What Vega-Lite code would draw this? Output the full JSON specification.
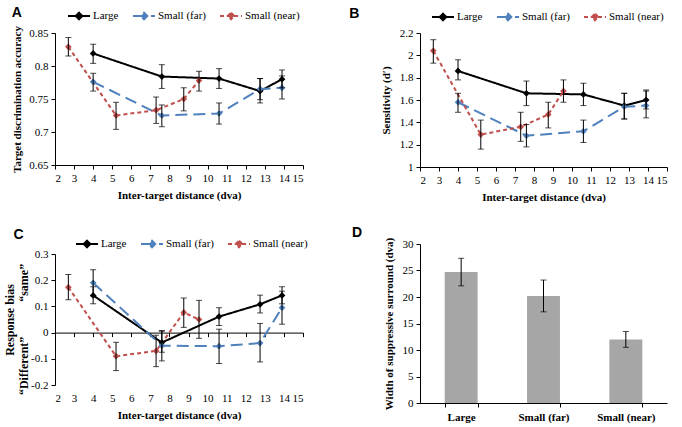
{
  "$schema": "https://vega.github.io/schema/vega-lite/v6.json",
  "padding": {"left": 3, "top": 4, "right": 1, "bottom": 1},
  "background": "white",
  "config": {
    "font": "Liberation Serif",
    "view": {"stroke": null},
    "axis": {"grid": false, "domainColor": "black", "tickColor": "black", "labelColor": "black", "titleColor": "black", "labelFont": "Liberation Serif", "titleFont": "Liberation Serif", "labelFontSize": 11, "titleFontSize": 11, "titleFontWeight": "bold", "tickSize": 4, "labelPadding": 3},
    "legend": {"labelFont": "Liberation Serif", "labelFontSize": 11, "labelColor": "black", "gridAlign": "none"},
    "title": {"font": "Liberation Sans", "fontSize": 14, "fontWeight": "bold", "color": "black", "anchor": "start", "frame": "bounds"}
  },
  "datasets": {
    "pts": [
      {"panel": "A", "cond": "Large", "x": 4, "y": 0.819, "lo": 0.804, "hi": 0.833},
      {"panel": "A", "cond": "Large", "x": 7.6, "y": 0.784, "lo": 0.766, "hi": 0.802},
      {"panel": "A", "cond": "Large", "x": 10.6, "y": 0.781, "lo": 0.766, "hi": 0.796},
      {"panel": "A", "cond": "Large", "x": 12.75, "y": 0.762, "lo": 0.744, "hi": 0.781},
      {"panel": "A", "cond": "Large", "x": 13.9, "y": 0.78, "lo": 0.767, "hi": 0.794},
      {"panel": "A", "cond": "Small (far)", "x": 4, "y": 0.776, "lo": 0.762, "hi": 0.789},
      {"panel": "A", "cond": "Small (far)", "x": 7.6, "y": 0.725, "lo": 0.708, "hi": 0.741},
      {"panel": "A", "cond": "Small (far)", "x": 10.6, "y": 0.728, "lo": 0.712, "hi": 0.744},
      {"panel": "A", "cond": "Small (far)", "x": 12.75, "y": 0.765, "lo": 0.749, "hi": 0.781},
      {"panel": "A", "cond": "Small (far)", "x": 13.9, "y": 0.767, "lo": 0.75, "hi": 0.785},
      {"panel": "A", "cond": "Small (near)", "x": 2.7, "y": 0.829, "lo": 0.815, "hi": 0.843},
      {"panel": "A", "cond": "Small (near)", "x": 5.2, "y": 0.725, "lo": 0.704, "hi": 0.745},
      {"panel": "A", "cond": "Small (near)", "x": 7.3, "y": 0.733, "lo": 0.713, "hi": 0.753},
      {"panel": "A", "cond": "Small (near)", "x": 8.75, "y": 0.75, "lo": 0.732, "hi": 0.767},
      {"panel": "A", "cond": "Small (near)", "x": 9.55, "y": 0.778, "lo": 0.762, "hi": 0.792},
      {"panel": "B", "cond": "Large", "x": 4, "y": 1.86, "lo": 1.78, "hi": 1.96},
      {"panel": "B", "cond": "Large", "x": 7.6, "y": 1.66, "lo": 1.55, "hi": 1.77},
      {"panel": "B", "cond": "Large", "x": 10.6, "y": 1.65, "lo": 1.55, "hi": 1.75},
      {"panel": "B", "cond": "Large", "x": 12.75, "y": 1.55, "lo": 1.43, "hi": 1.66},
      {"panel": "B", "cond": "Large", "x": 13.9, "y": 1.6, "lo": 1.52, "hi": 1.69},
      {"panel": "B", "cond": "Small (far)", "x": 4, "y": 1.58, "lo": 1.49, "hi": 1.66},
      {"panel": "B", "cond": "Small (far)", "x": 7.6, "y": 1.28, "lo": 1.18, "hi": 1.38},
      {"panel": "B", "cond": "Small (far)", "x": 10.6, "y": 1.32, "lo": 1.22, "hi": 1.42},
      {"panel": "B", "cond": "Small (far)", "x": 12.75, "y": 1.54, "lo": 1.43, "hi": 1.66},
      {"panel": "B", "cond": "Small (far)", "x": 13.9, "y": 1.55, "lo": 1.44, "hi": 1.68},
      {"panel": "B", "cond": "Small (near)", "x": 2.7, "y": 2.04, "lo": 1.93, "hi": 2.14},
      {"panel": "B", "cond": "Small (near)", "x": 5.2, "y": 1.29, "lo": 1.16, "hi": 1.42},
      {"panel": "B", "cond": "Small (near)", "x": 7.3, "y": 1.36, "lo": 1.23, "hi": 1.49},
      {"panel": "B", "cond": "Small (near)", "x": 8.75, "y": 1.47, "lo": 1.35, "hi": 1.58},
      {"panel": "B", "cond": "Small (near)", "x": 9.55, "y": 1.68, "lo": 1.58, "hi": 1.78},
      {"panel": "C", "cond": "Large", "x": 4, "y": 0.142, "lo": 0.11, "hi": 0.175},
      {"panel": "C", "cond": "Large", "x": 7.6, "y": -0.038, "lo": -0.075, "hi": 0.005},
      {"panel": "C", "cond": "Large", "x": 10.6, "y": 0.061, "lo": 0.027, "hi": 0.095},
      {"panel": "C", "cond": "Large", "x": 12.75, "y": 0.108, "lo": 0.075, "hi": 0.143},
      {"panel": "C", "cond": "Large", "x": 13.9, "y": 0.142, "lo": 0.11, "hi": 0.175},
      {"panel": "C", "cond": "Small (far)", "x": 4, "y": 0.19, "lo": 0.14, "hi": 0.24},
      {"panel": "C", "cond": "Small (far)", "x": 7.6, "y": -0.05, "lo": -0.108, "hi": 0.008},
      {"panel": "C", "cond": "Small (far)", "x": 10.6, "y": -0.052, "lo": -0.118, "hi": 0.013},
      {"panel": "C", "cond": "Small (far)", "x": 12.75, "y": -0.04, "lo": -0.112, "hi": 0.035},
      {"panel": "C", "cond": "Small (far)", "x": 13.9, "y": 0.095, "lo": 0.032, "hi": 0.158},
      {"panel": "C", "cond": "Small (near)", "x": 2.7, "y": 0.173, "lo": 0.125, "hi": 0.222},
      {"panel": "C", "cond": "Small (near)", "x": 5.2, "y": -0.09, "lo": -0.145, "hi": -0.037},
      {"panel": "C", "cond": "Small (near)", "x": 7.3, "y": -0.07, "lo": -0.13, "hi": -0.01},
      {"panel": "C", "cond": "Small (near)", "x": 8.75, "y": 0.077, "lo": 0.02, "hi": 0.132},
      {"panel": "C", "cond": "Small (near)", "x": 9.55, "y": 0.05, "lo": -0.022, "hi": 0.123}
    ],
    "bars": [
      {"cond": "Large", "y": 24.7, "lo": 22.1, "hi": 27.3},
      {"cond": "Small (far)", "y": 20.2, "lo": 17.2, "hi": 23.2},
      {"cond": "Small (near)", "y": 12.0, "lo": 10.5, "hi": 13.5}
    ],
    "biaslabels": [
      {"label": "“same”", "x": 0.35, "y": 0.19},
      {"label": "“Different”", "x": 0.35, "y": -0.127}
    ]
  },
  "hconcat": [
    {
      "vconcat": [
        {
          "width": 248, "height": 132,
          "title": {"text": "A", "offset": -16, "dx": 0},
          "data": {"name": "pts"},
          "transform": [{"filter": "datum.panel == 'A'"}],
          "encoding": {
            "x": {"field": "x", "type": "quantitative", "scale": {"domain": [2, 15], "nice": false}, "axis": {"values": [2,3,4,5,6,7,8,9,10,11,12,13,14,15], "title": "Inter-target distance (dva)", "titlePadding": 6}},
            "y": {"field": "y", "type": "quantitative", "scale": {"domain": [0.65, 0.85], "nice": false, "zero": false}, "axis": {"values": [0.65,0.7,0.75,0.8,0.85], "format": ".2~f", "title": "Target discrimination accuracy", "titlePadding": 6}}
          },
          "layer": [
            {"mark": {"type": "line", "strokeWidth": 2}, "encoding": {
              "color": {"field": "cond", "type": "nominal", "scale": {"domain": ["Large","Small (far)","Small (near)"], "range": ["#000000","#4f81bd","#c0504d"]}, "legend": {"orient": "none", "legendX": 12, "legendY": -29, "title": null, "direction": "horizontal", "symbolType": "M-1,0L1,0M0,-0.3L0.3,0L0,0.3L-0.3,0Z", "symbolSize": 484, "symbolStrokeWidth": 2, "columnPadding": 10, "labelOffset": 2}},
              "strokeDash": {"field": "cond", "type": "nominal", "scale": {"domain": ["Large","Small (far)","Small (near)"], "range": [[1,0],[12,6],[4,3]]}, "legend": {"orient": "none", "legendX": 12, "legendY": -29, "title": null, "direction": "horizontal", "symbolType": "M-1,0L1,0M0,-0.3L0.3,0L0,0.3L-0.3,0Z", "symbolSize": 484, "symbolStrokeWidth": 2, "columnPadding": 10, "labelOffset": 2}}
            }},
            {"mark": {"type": "point", "shape": "diamond", "filled": true, "size": 45, "opacity": 1}, "encoding": {"color": {"field": "cond", "type": "nominal", "legend": null}}},
            {"mark": {"type": "errorbar", "ticks": {"size": 6, "color": "black"}, "rule": {"color": "black"}, "color": "black"}, "encoding": {"y": {"field": "lo", "type": "quantitative"}, "y2": {"field": "hi"}}}
          ]
        },
        {
          "width": 248, "height": 131,
          "title": {"text": "C", "offset": -10, "dx": 10},
          "encoding": {
            "y": {"field": "y", "type": "quantitative", "scale": {"domain": [-0.2, 0.3], "nice": false, "zero": false}, "axis": {"values": [-0.2,-0.1,0,0.1,0.2,0.3], "labelExpr": "replace(format(datum.value, '.1~f'), '−', '-')", "title": "Response bias", "titlePadding": 14, "titleFontSize": 12}}
          },
          "layer": [
            {
              "data": {"name": "pts"},
              "transform": [{"filter": "datum.panel == 'C'"}],
              "encoding": {
                "x": {"field": "x", "type": "quantitative", "scale": {"domain": [2, 15], "nice": false}, "axis": {"values": [2,3,4,5,6,7,8,9,10,11,12,13,14,15], "title": "Inter-target distance (dva)", "domain": false, "ticks": false, "labelPadding": 7, "titlePadding": 6}}
              },
              "layer": [
                {"mark": {"type": "line", "strokeWidth": 2}, "encoding": {
                  "color": {"field": "cond", "type": "nominal", "scale": {"domain": ["Large","Small (far)","Small (near)"], "range": ["#000000","#4f81bd","#c0504d"]}, "legend": {"orient": "none", "legendX": 20, "legendY": -22, "title": null, "direction": "horizontal", "symbolType": "M-1,0L1,0M0,-0.3L0.3,0L0,0.3L-0.3,0Z", "symbolSize": 484, "symbolStrokeWidth": 2, "columnPadding": 10, "labelOffset": 2}},
                  "strokeDash": {"field": "cond", "type": "nominal", "scale": {"domain": ["Large","Small (far)","Small (near)"], "range": [[1,0],[12,6],[4,3]]}, "legend": {"orient": "none", "legendX": 20, "legendY": -22, "title": null, "direction": "horizontal", "symbolType": "M-1,0L1,0M0,-0.3L0.3,0L0,0.3L-0.3,0Z", "symbolSize": 484, "symbolStrokeWidth": 2, "columnPadding": 10, "labelOffset": 2}}
                }},
                {"mark": {"type": "point", "shape": "diamond", "filled": true, "size": 45, "opacity": 1}, "encoding": {"color": {"field": "cond", "type": "nominal", "legend": null}}},
                {"mark": {"type": "errorbar", "ticks": {"size": 6, "color": "black"}, "rule": {"color": "black"}, "color": "black"}, "encoding": {"y": {"field": "lo", "type": "quantitative"}, "y2": {"field": "hi"}}}
              ]
            },
            {
              "data": {"name": "pts"},
              "transform": [{"filter": "datum.panel == 'C'"}],
              "mark": {"type": "point", "opacity": 0},
              "encoding": {
                "x": {"field": "x", "type": "quantitative", "axis": {"values": [2,3,4,5,6,7,8,9,10,11,12,13,14,15], "title": null, "labels": false, "domain": true, "ticks": true, "offset": -52.4, "orient": "bottom"}}
              }
            },
            {
              "data": {"name": "biaslabels"},
              "mark": {"type": "text", "angle": 270, "font": "Liberation Serif", "fontSize": 12, "fontWeight": "bold", "color": "black", "align": "center", "baseline": "middle"},
              "encoding": {
                "x": {"field": "x", "type": "quantitative", "axis": null},
                "text": {"field": "label"}
              }
            }
          ],
          "resolve": {"axis": {"x": "independent"}}
        }
      ],
      "spacing": 28,
      "resolve": {"scale": {"color": "independent", "strokeDash": "independent"}, "legend": {"color": "independent", "strokeDash": "independent"}}
    },
    {
      "vconcat": [
        {
          "width": 247, "height": 134,
          "title": {"text": "B", "offset": -16, "dx": -31},
          "data": {"name": "pts"},
          "transform": [{"filter": "datum.panel == 'B'"}],
          "encoding": {
            "x": {"field": "x", "type": "quantitative", "scale": {"domain": [2, 15], "nice": false}, "axis": {"values": [2,3,4,5,6,7,8,9,10,11,12,13,14,15], "title": "Inter-target distance (dva)", "titlePadding": 6}},
            "y": {"field": "y", "type": "quantitative", "scale": {"domain": [1, 2.2], "nice": false, "zero": false}, "axis": {"values": [1,1.2,1.4,1.6,1.8,2,2.2], "format": ".1~f", "title": "Sensitivity (d′)", "titlePadding": 8}}
          },
          "layer": [
            {"mark": {"type": "line", "strokeWidth": 2}, "encoding": {
              "color": {"field": "cond", "type": "nominal", "scale": {"domain": ["Large","Small (far)","Small (near)"], "range": ["#000000","#4f81bd","#c0504d"]}, "legend": {"orient": "none", "legendX": 11, "legendY": -28, "title": null, "direction": "horizontal", "symbolType": "M-1,0L1,0M0,-0.3L0.3,0L0,0.3L-0.3,0Z", "symbolSize": 484, "symbolStrokeWidth": 2, "columnPadding": 10, "labelOffset": 2}},
              "strokeDash": {"field": "cond", "type": "nominal", "scale": {"domain": ["Large","Small (far)","Small (near)"], "range": [[1,0],[12,6],[4,3]]}, "legend": {"orient": "none", "legendX": 11, "legendY": -28, "title": null, "direction": "horizontal", "symbolType": "M-1,0L1,0M0,-0.3L0.3,0L0,0.3L-0.3,0Z", "symbolSize": 484, "symbolStrokeWidth": 2, "columnPadding": 10, "labelOffset": 2}}
            }},
            {"mark": {"type": "point", "shape": "diamond", "filled": true, "size": 45, "opacity": 1}, "encoding": {"color": {"field": "cond", "type": "nominal", "legend": null}}},
            {"mark": {"type": "errorbar", "ticks": {"size": 6, "color": "black"}, "rule": {"color": "black"}, "color": "black"}, "encoding": {"y": {"field": "lo", "type": "quantitative"}, "y2": {"field": "hi"}}}
          ]
        },
        {
          "width": 247, "height": 159,
          "title": {"text": "D", "offset": -3, "dx": -31},
          "data": {"name": "bars"},
          "encoding": {
            "x": {"field": "cond", "type": "nominal", "sort": null, "scale": {"paddingInner": 0.6, "paddingOuter": 0.3}, "axis": {"title": null, "labelAngle": 0, "labelFontWeight": "bold", "labelFontSize": 11, "tickBand": "extent", "labelPadding": 4}},
            "y": {"field": "y", "type": "quantitative", "scale": {"domain": [0, 30], "nice": false}, "axis": {"values": [0,5,10,15,20,25,30], "title": "Width of suppressive surround (dva)", "titlePadding": 8}}
          },
          "layer": [
            {"mark": {"type": "bar", "color": "#a6a6a6"}},
            {"mark": {"type": "errorbar", "ticks": {"size": 6, "color": "black"}, "rule": {"color": "black"}, "color": "black"}, "encoding": {"y": {"field": "lo", "type": "quantitative"}, "y2": {"field": "hi"}}}
          ]
        }
      ],
      "spacing": 24,
      "resolve": {"scale": {"color": "independent", "strokeDash": "independent"}, "legend": {"color": "independent", "strokeDash": "independent"}}
    }
  ],
  "spacing": 41
}
